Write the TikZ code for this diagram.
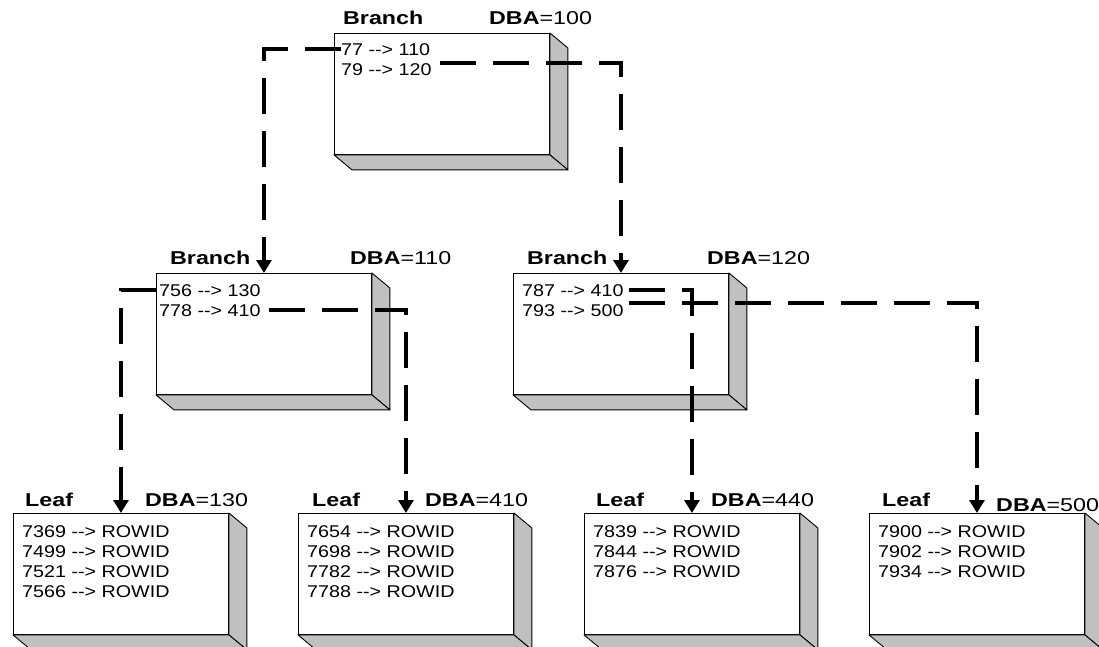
\documentclass[tikz,border=0pt]{standalone}
\usepackage{fontspec}
\setmainfont{Liberation Sans}
\newfontfamily\cfont{Liberation Sans}[FakeStretch=1.16]
\newfontfamily\lfont{Liberation Sans}[FakeStretch=1.25]
\usetikzlibrary{arrows.meta,calc}
\definecolor{shade}{HTML}{C0C0C0}
\tikzset{
 box/.style={draw=black,line width=0.9pt,fill=white,rectangle,minimum width=215pt,minimum height=121pt,inner sep=0pt,anchor=north west},
 side/.style={draw=black,line width=0.9pt,fill=shade,line join=round},
 row/.style={anchor=west,inner sep=0pt,font=\cfont\fontsize{17}{20}\selectfont,text height=12.2pt,text depth=0pt},
 lab/.style={anchor=west,inner sep=0pt,font=\lfont\fontsize{18.6}{22}\selectfont,text height=13.3pt,text depth=0pt},
 conn/.style={line width=3.5pt,dash pattern=on 36pt off 17pt},
 tip/.style={-{Triangle[length=13pt,width=15pt]}},
}
\newcommand\dbbox[3]{%
 \node[box] (#1) at (#2,#3) {};
 \filldraw[side] (#1.north east) -- ++(18,15) -- ($(#1.south east)+(18,15)$) -- (#1.south east) -- cycle;
 \filldraw[side] (#1.south west) -- ++(18,15) -- ($(#1.south east)+(18,15)$) -- (#1.south east) -- cycle;
}
\begin{document}
\begin{tikzpicture}[x=1pt,y=-1pt]
\useasboundingbox (0,0) rectangle (1099,647);
\clip (0,0) rectangle (1099,647);

% boxes
\dbbox{top}{334}{33}
\dbbox{b110}{156}{273}
\dbbox{b120}{513}{273}
\dbbox{l130}{13}{513}
\dbbox{l410}{298}{513}
\dbbox{l440}{584}{513}
\dbbox{l500}{869}{513}

% labels
\node[lab] (ltop) at (343,18) {\bfseries Branch};
\node[lab] (dtop) at (489,18) {{\bfseries DBA}=100};
\node[lab] (lb110) at (170,258) {\bfseries Branch};
\node[lab] (db110) at (350,258) {{\bfseries DBA}=110};
\node[lab] (lb120) at (527,258) {\bfseries Branch};
\node[lab] (db120) at (707,258) {{\bfseries DBA}=120};
\node[lab] (ll130) at (25,500) {\bfseries Leaf};
\node[lab] (dl130) at (145,500) {{\bfseries DBA}=130};
\node[lab] (ll410) at (312,500) {\bfseries Leaf};
\node[lab] (dl410) at (425,500) {{\bfseries DBA}=410};
\node[lab] (ll440) at (596,500) {\bfseries Leaf};
\node[lab] (dl440) at (711,500) {{\bfseries DBA}=440};
\node[lab] (ll500) at (882,500) {\bfseries Leaf};
\node[lab] (dl500) at (996,505) {{\bfseries DBA}=500};

% rows
\node[row] (t1) at (341,49) {77 --> 110};
\node[row] (t2) at (341,69) {79 --> 120};
\node[row] (u1) at (159,290) {756 --> 130};
\node[row] (u2) at (159,310) {778 --> 410};
\node[row] (v1) at (522,290) {787 --> 410};
\node[row] (v2) at (522,310) {793 --> 500};
\foreach \k/\t [count=\i] in {7369,7499,7521,7566}
  \node[row] (a\i) at (22,{531+20*(\i-1)}) {\k\ --> ROWID};
\foreach \k [count=\i] in {7654,7698,7782,7788}
  \node[row] (b\i) at (307,{531+20*(\i-1)}) {\k\ --> ROWID};
\foreach \k [count=\i] in {7839,7844,7876}
  \node[row] (c\i) at (593,{531+20*(\i-1)}) {\k\ --> ROWID};
\foreach \k [count=\i] in {7900,7902,7934}
  \node[row] (d\i) at (878,{531+20*(\i-1)}) {\k\ --> ROWID};

% connectors
\draw[conn,tip] (t1.west) -| (b110.north);
\draw[conn,tip] ($(t2.east)+(8,-6)$) -| (b120.north);
\draw[conn,tip] (b110.west |- u1.west) -| (l130.north);
\draw[conn,tip] ($(u2.east)+(8,0)$) -| (l410.north);
\draw[conn,tip] ($(v1.east)+(5,0)$) -| (l440.north);
\draw[conn,tip] ($(v2.east)+(5,-7)$) -| (l500.north);
\end{tikzpicture}
\end{document}
